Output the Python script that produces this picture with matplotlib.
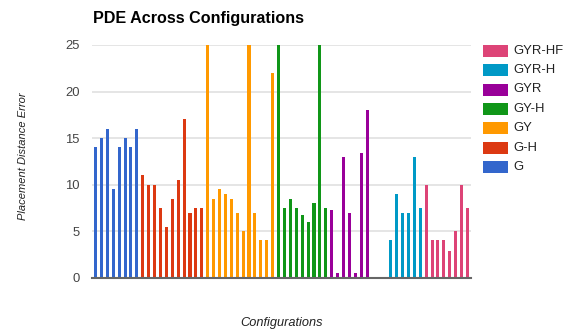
import numpy as np
import matplotlib.pyplot as plt
from matplotlib.patches import Rectangle

plt.rcParams['font.family'] = ['Liberation Sans', 'DejaVu Sans']

series = ["G", "G-H", "GY", "GY-H", "GYR", "GYR-H", "GYR-HF"]
colors = ["#3366cc", "#dc3912", "#ff9900", "#109618", "#990099", "#0099c6", "#dd4477"]

g = [14, 15, 16, 9.5, 14, 15, 14, 16]
g_h = [11, 10, 10, 7.5, 5.5, 8.5, 10.5, 17, 7, 7.5, 7.5]
gy = [25, 8.5, 9.5, 9, 8.5, 7, 5, 25, 7, 4, 4, 22]
gy_h = [25, 7.5, 8.5, 7.5, 6.7, 6, 8, 25, 7.5]
gyr = [7.3, 0.5, 13, 7, 0.5, 13.4, 18, 0.1]
gyr_h = [0.05, 0.05, 4, 9, 7, 7, 13, 7.5]
gyr_hf = [10, 4, 4, 4, 2.9, 5, 10, 7.5]

values = [g, g_h, gy, gy_h, gyr, gyr_h, gyr_hf]

fig = plt.figure(figsize=(5.63, 3.32), dpi=100)
ax = fig.add_axes([92/563, 1-277.7/332, 379/563, 232.7/332])

pos = 0
for vals, col in zip(values, colors):
    x = np.arange(pos, pos + len(vals))
    ax.bar(x, vals, width=0.52, color=col, zorder=3)
    pos += len(vals)

ax.set_xlim(-0.6, pos - 1 + 0.6)
ax.set_ylim(0, 25)
ax.set_yticks([0, 5, 10, 15, 20, 25])
ax.set_xticks([])
ax.grid(axis='y', color='#e0e0e0', linewidth=1.2, zorder=0)
for s in ['top', 'right', 'left']:
    ax.spines[s].set_visible(False)
ax.spines['bottom'].set_color('#666666')
ax.spines['bottom'].set_linewidth(1.5)
ax.spines['bottom'].set_zorder(4)
ax.tick_params(axis='y', length=0, pad=9, labelsize=9.4, labelcolor='#444444')

# title sits in figure coords, left edge lined up with the plot
fig.text(93/563, 1-18/332, "PDE Across Configurations", fontsize=11.6,
         fontweight='bold', va='center', ha='left')
ax.set_ylabel("Placement Distance Error", fontsize=8, style='italic',
              color='#222222', va='center')
ax.yaxis.set_label_coords(-0.182, 0.521)
ax.set_xlabel("Configurations", fontsize=9.2, style='italic',
              color='#222222', va='center')
ax.xaxis.set_label_coords(0.5, -0.195)

# legend, last series on top
for i, (name, col) in enumerate(zip(series[::-1], colors[::-1])):
    yc = 50.5 + i * 19.5
    fig.add_artist(Rectangle((483/563, 1-(yc+6)/332), 25/563, 12/332,
                             transform=fig.transFigure, facecolor=col, edgecolor='none'))
    fig.text(513/563, 1-yc/332, name, fontsize=9.4, color='#222222', va='center')

fig.savefig("out.png", dpi=100)
